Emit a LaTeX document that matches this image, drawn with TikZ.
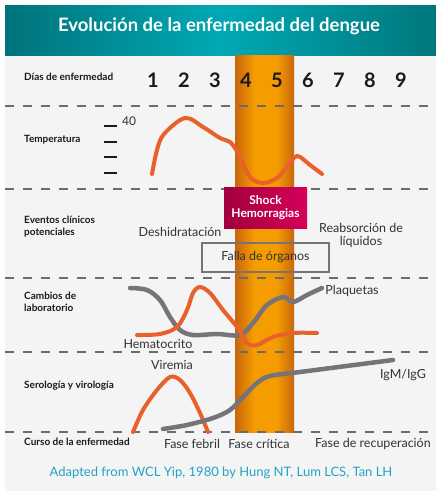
\documentclass[tikz,border=0pt]{standalone}
\usepackage{fontspec}
\setmainfont{Lato}
\definecolor{bgc}{HTML}{F4F4F4}
\definecolor{tealA}{HTML}{00737B}
\definecolor{tealB}{HTML}{00A9B4}
\definecolor{tealC}{HTML}{00777C}
\definecolor{orgA}{HTML}{C8650D}
\definecolor{orgB}{HTML}{F49C00}
\definecolor{orgC}{HTML}{C9670C}
\definecolor{shockA}{HTML}{A2003E}
\definecolor{shockB}{HTML}{D6005A}
\definecolor{curveO}{HTML}{E8602C}
\definecolor{curveG}{HTML}{77737A}
\definecolor{dashc}{HTML}{6E6B70}
\definecolor{txt}{HTML}{333333}
\definecolor{lbl}{HTML}{1A1A1A}
\definecolor{foot}{HTML}{24A3C8}
\pgfdeclarehorizontalshading{barshade}{100bp}{color(0bp)=(orgA); color(25bp)=(orgA); color(41bp)=(orgB); color(60bp)=(orgB); color(75bp)=(orgC); color(100bp)=(orgC)}
\tikzset{
  rowlabel/.style={anchor=west, inner sep=0pt, text=lbl, font=\fontsize{10}{12}\selectfont\bfseries, align=left},
  daynum/.style={inner sep=0pt, text=lbl, font=\fontsize{20}{20}\selectfont\bfseries},
  plain/.style={inner sep=0pt, text=txt, font=\fontsize{12.5}{13.5}\selectfont, align=center},
  dashline/.style={draw=dashc, line width=2.2pt, dash pattern=on 9pt off 9pt},
  ocurve/.style={draw=curveO, line width=4pt, line cap=round},
  gcurve/.style={draw=curveG, line width=4.5pt, line cap=round},
  tick/.style={draw=lbl, line width=2.2pt}
}
\begin{document}
\begin{tikzpicture}[x=1pt,y=-1pt]
\useasboundingbox (0,0) rectangle (436,491);
\fill[white] (0,0) rectangle (436,491);
\fill[bgc] (5,55) rectangle (436,491);
\shade[left color=tealA, right color=tealC, middle color=tealB] (5,5) rectangle (436,55);
\node[inner sep=0pt, text=white, font=\fontsize{18.5}{20}\selectfont\bfseries] (title) at (219,26) {Evolución de la enfermedad del dengue};
% critical phase bar
\shade[shading=barshade] (235,55) rectangle (294,432);
% dashed separators
\foreach \yy in {106,189,278,352,432} \draw[dashline] (5,\yy) -- (436,\yy);
% row labels
\node[rowlabel] (ldias) at (24,77) {Días de enfermedad};
\node[rowlabel] (ltemp) at (24,140) {Temperatura};
\node[rowlabel] (leven) at (24,226.5) {Eventos clínicos\\potenciales};
\node[rowlabel] (llab) at (24,302) {Cambios de\\laboratorio};
\node[rowlabel] (lsero) at (24,386) {Serología y virología};
\node[rowlabel] (lcurso) at (24,442) {Curso de la enfermedad};
% day numbers
\foreach \n/\xx in {1/153,2/184,3/215,4/246,5/277,6/308,7/339,8/370,9/401}
  \node[daynum] (d\n) at (\xx,80) {\n};
% temperature ticks
\foreach \yy in {126,142,157,173} \draw[tick] (104,\yy) -- (117,\yy);
\node[inner sep=0pt, text=txt, font=\fontsize{12}{12}\selectfont] (t40) at (129,121) {40};
% temperature curve
\draw[ocurve] plot[smooth, tension=0.55] coordinates {(152,174) (157,150) (164,134) (185,118) (203,127) (220,138) (230,142) (238,153) (250,177) (263,183) (277,178) (287,167) (297,156) (310,165) (322,174)};
% clinical events
\node[plain] (desh) at (180,232) {Deshidratación};
\node[plain] (reab) at (361,235.5) {Reabsorción de\\líquidos};
\node[draw=curveG, line width=2.5pt, minimum width=127pt, minimum height=29pt, inner sep=0pt, text=txt, font=\fontsize{12.5}{13.5}\selectfont] (falla) at (265.5,257.5) {Falla de órganos};
\node[left color=shockA, right color=shockB, minimum width=83pt, minimum height=41pt, inner sep=0pt, text=white, align=center, font=\fontsize{12}{13}\selectfont\bfseries] (shock) at (265.5,207.5) {Shock\\Hemorragias};
% laboratory
\draw[gcurve] plot[smooth, tension=0.55] coordinates {(130,288) (147,290) (160,300) (170,317) (180,330) (193,335) (217,334) (240,335) (253,323) (267,305) (283,297) (293,302) (307,295) (322,288)};
\draw[ocurve] plot[smooth, tension=0.55] coordinates {(137,335) (160,334) (177,327) (187,310) (193,293) (200,287) (210,293) (223,310) (237,327) (247,343) (257,345) (273,337) (293,333) (317,333)};
\node[plain] (plaq) at (352,291) {Plaquetas};
\node[plain] (hema) at (158,344) {Hematocrito};
% serology
\draw[ocurve] plot[smooth, tension=0.55] coordinates {(133,432) (143,410) (157,390) (170,377) (180,380) (190,393) (200,413) (208,432)};
\draw[gcurve] plot[smooth, tension=0.55] coordinates {(163,429) (187,425) (213,418) (230,410) (243,397) (257,383) (270,376) (300,372) (393,360)};
\node[plain] (vire) at (172,365) {Viremia};
\node[plain] (igm) at (403,375) {IgM/IgG};
% course
\node[plain] (febril) at (192,444) {Fase febril};
\node[plain] (critica) at (259,444) {Fase crítica};
\node[plain] (recup) at (373,444) {Fase de recuperación};
% footer
\node[inner sep=0pt, text=foot, font=\fontsize{13}{14}\selectfont] (footer) at (221,473) {Adapted from WCL Yip, 1980 by Hung NT, Lum LCS, Tan LH};
\end{tikzpicture}
\end{document}
